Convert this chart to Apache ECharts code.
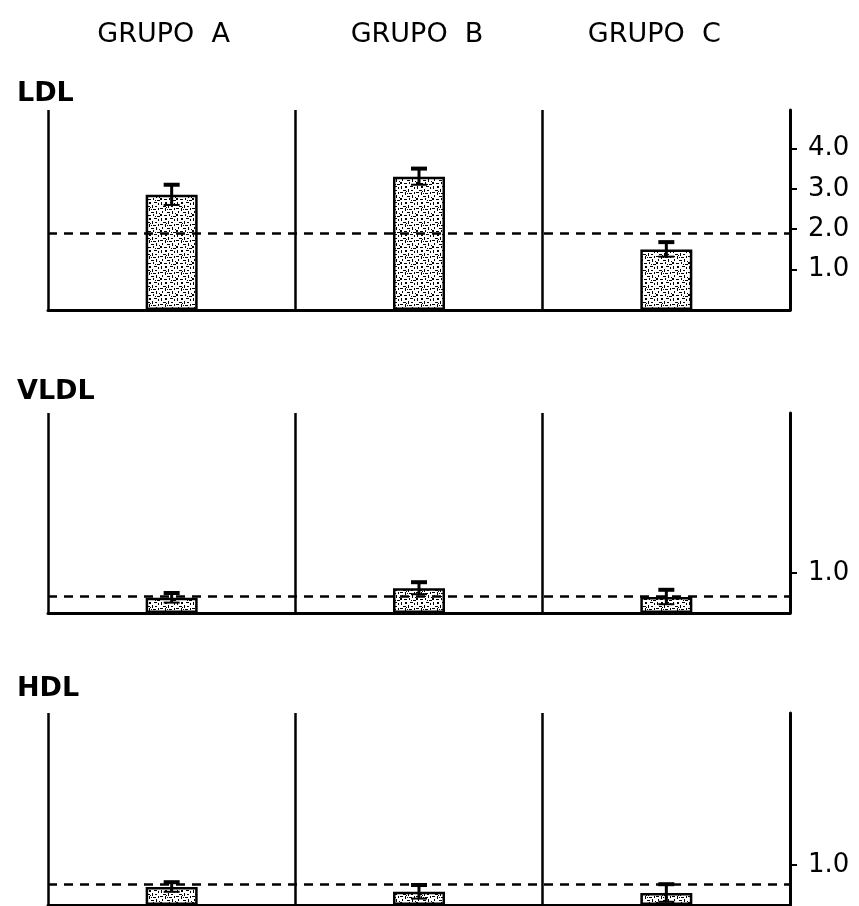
<!DOCTYPE html>
<html><head><meta charset="utf-8">
<script src="https://cdn.jsdelivr.net/npm/echarts@6/dist/echarts.min.js"></script>
<style>html,body{margin:0;padding:0;background:#fff}#c{width:859px;height:906px}</style>
</head><body><div id="c"></div>
<script>
// ---- data ----
const groups = ['GRUPO  A', 'GRUPO  B', 'GRUPO  C'];
const panelNames = ['LDL', 'VLDL', 'HDL'];
const ldlMeans = [2.85, 3.3, 1.5];
const ldlErr = [0.25, 0.2, 0.18];
const vldlMeans = [0.38, 0.62, 0.4];
const vldlErr = [0.12, 0.15, 0.18];
const hdlMeans = [0.45, 0.33, 0.3];
const hdlErr = [0.12, 0.17, 0.22];
const refLines = [1.9, 0.42, 0.52];
const ldlTicks = [1, 2, 3, 4];
const vldlTicks = [1];
const hdlTicks = [1];

// ---- stipple texture ----
function stipple() {
  const c = document.createElement('canvas');
  c.width = 16; c.height = 16;
  const g = c.getContext('2d');
  g.fillStyle = '#fff'; g.fillRect(0, 0, 16, 16);
  g.fillStyle = '#000';
  const dots = [[0,0,3,1],[5,0,1,3],[9,1,3,1],[14,0,1,2],[2,3,1,2],[7,4,3,1],[12,3,1,3],
    [0,6,2,2],[4,7,3,1],[9,6,1,2],[13,8,3,1],[1,10,1,3],[5,10,2,2],[10,10,3,1],
    [14,11,1,2],[3,14,3,1],[8,13,1,3],[11,14,2,1],[7,1,1,1],[15,5,1,1],[11,8,1,1],[6,15,1,1]];
  dots.forEach(d => g.fillRect(d[0], d[1], d[2], d[3]));
  return c;
}
const tex = { image: stipple(), repeat: 'repeat' };

const means = [ldlMeans, vldlMeans, hdlMeans];
const errs = [ldlErr, vldlErr, hdlErr];
const ticks = [ldlTicks, vldlTicks, hdlTicks];
const grids = [
  { left: 48, right: 69, top: 110, height: 200 },
  { left: 48, right: 69, top: 413, height: 200 },
  { left: 48, right: 69, top: 713, height: 192 }
];
const ymax = [4.95, 5.0, 4.8];
const labelTops = [75, 373, 670];
const headerPad = [16, 4, 24];

const xAxes = [], yAxes = [], series = [], titles = [];
for (let p = 0; p < 3; p++) {
  xAxes.push({
    type: 'category', gridIndex: p, data: groups,
    axisLine: { show: true, lineStyle: { color: '#000', width: 3 } },
    axisTick: { show: false }, axisLabel: { show: false },
    splitLine: { show: true, lineStyle: { color: '#000', width: 2.5 } }
  });
  yAxes.push({
    type: 'value', gridIndex: p, position: 'right', min: 0, max: ymax[p],
    axisLine: { show: true, lineStyle: { color: '#000', width: 3 } },
    axisTick: { show: true, customValues: ticks[p], length: 7, lineStyle: { color: '#000', width: 2 } },
    axisLabel: { show: true, customValues: ticks[p], margin: 18, color: '#000',
      fontFamily: 'DejaVu Sans', fontSize: 26, formatter: v => v.toFixed(1) },
    splitLine: { show: false }
  });
  series.push({
    type: 'bar', xAxisIndex: p, yAxisIndex: p, data: means[p], barWidth: 52,
    itemStyle: { color: tex, borderColor: '#000', borderWidth: 2.5 },
    markLine: { silent: true, symbol: 'none', label: { show: false },
      lineStyle: { color: '#000', width: 2.5, type: [9, 7] },
      data: [{ yAxis: refLines[p] }] }
  });
  series.push({
    type: 'custom', xAxisIndex: p, yAxisIndex: p, z: 10,
    data: means[p].map((m, i) => [i, m - errs[p][i], m + errs[p][i]]),
    renderItem(params, api) {
      const x = api.value(0);
      const lo = api.coord([x, api.value(1)]);
      const hi = api.coord([x, api.value(2)]);
      const w = 16;
      const st = { stroke: '#000', lineWidth: 3 };
      return { type: 'group', children: [
        { type: 'line', shape: { x1: hi[0], y1: hi[1], x2: lo[0], y2: lo[1] }, style: st },
        { type: 'line', shape: { x1: hi[0] - w / 2, y1: hi[1], x2: hi[0] + w / 2, y2: hi[1] }, style: { stroke: '#000', lineWidth: 4 } },
        { type: 'line', shape: { x1: lo[0] - w / 2, y1: lo[1], x2: lo[0] + w / 2, y2: lo[1] }, style: { stroke: '#000', lineWidth: 2 } }
      ] };
    }
  });
  titles.push({ text: panelNames[p], left: 12, top: labelTops[p],
    textStyle: { fontFamily: 'DejaVu Sans', fontWeight: 'bold', fontSize: 27, color: '#000' } });
}
// group headers above the first panel
xAxes.push({
  type: 'category', gridIndex: 0, position: 'top',
  data: groups.map((g, i) => ({ value: g, textStyle: { padding: [0, headerPad[i], 0, 0] } })),
  axisLine: { show: false }, axisTick: { show: false }, splitLine: { show: false },
  axisLabel: { show: true, margin: 62, color: '#000', fontFamily: 'DejaVu Sans',
    fontWeight: 'normal', fontSize: 27 }
});

const chart = echarts.init(document.getElementById('c'), null, { renderer: 'canvas' });
chart.setOption({
  animation: false,
  backgroundColor: '#fff',
  title: titles,
  grid: grids,
  xAxis: xAxes,
  yAxis: yAxes,
  series: series
});
</script>
</body></html>
